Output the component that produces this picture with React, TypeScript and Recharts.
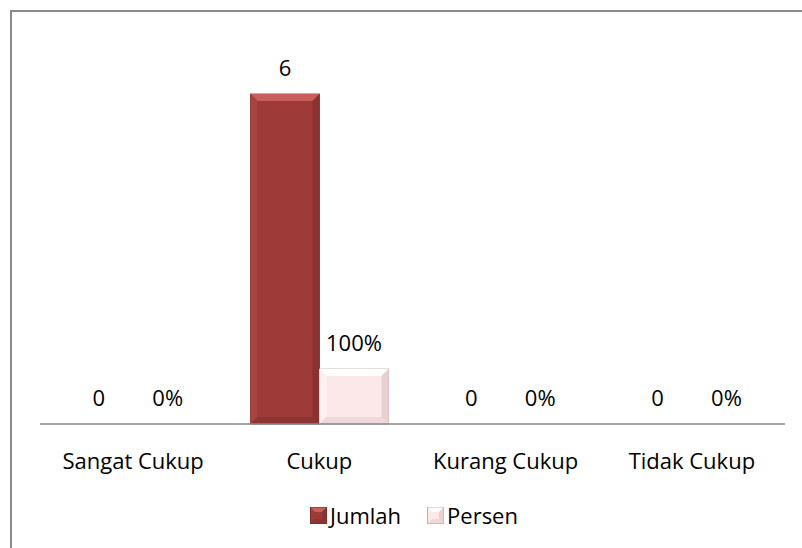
import React from "react";
import { BarChart, Bar, XAxis, YAxis, Legend, LabelList } from "recharts";

const categories = ["Sangat Cukup", "Cukup", "Kurang Cukup", "Tidak Cukup"];
const jumlah = [0, 6, 0, 0];
const persen = [0, 1, 0, 0];

const data = categories.map((name, i) => ({ name, jumlah: jumlah[i], persen: persen[i] }));

const FONT = "'Open Sans', sans-serif";
const FS = 22;

const palette: Record<string, { fill: string; top: string; side: string; dark: string; edge: string }> = {
  jumlah: { fill: "#9e3b39", top: "#c95f5c", side: "#a84340", dark: "#8a3230", edge: "#7a2c2a" },
  persen: { fill: "#fce8e8", top: "#ffffff", side: "#fdf0f0", dark: "#ead1d1", edge: "#c9a8a8" },
};

function bevelShape(key: string) {
  return (props: any) => {
    const { x, y, width, height } = props;
    if (!height || height <= 0) return <g />;
    const c = palette[key];
    const b = Math.min(7, height / 2, width / 2);
    return (
      <g>
        <rect x={x} y={y} width={width} height={height} fill={c.fill} stroke={c.edge} strokeWidth={0.8} />
        <polygon points={`${x},${y} ${x + width},${y} ${x + width - b},${y + b} ${x + b},${y + b}`} fill={c.top} />
        <polygon points={`${x},${y} ${x + b},${y + b} ${x + b},${y + height - b} ${x},${y + height}`} fill={c.side} />
        <polygon points={`${x + width},${y} ${x + width},${y + height} ${x + width - b},${y + height - b} ${x + width - b},${y + b}`} fill={c.dark} />
        <polygon points={`${x},${y + height} ${x + b},${y + height - b} ${x + width - b},${y + height - b} ${x + width},${y + height}`} fill={c.dark} opacity={0.7} />
      </g>
    );
  };
}

function Swatch({ k }: { k: string }) {
  const c = palette[k];
  return (
    <svg width={17} height={17} style={{ display: "block" }}>
      <rect x={0.5} y={0.5} width={16} height={16} fill={c.fill} stroke={c.edge} />
      <polygon points="0.5,0.5 16.5,0.5 12,5 5,5" fill={c.top} />
      <polygon points="16.5,0.5 16.5,16.5 12,12 12,5" fill={c.dark} />
      <polygon points="0.5,16.5 5,12 12,12 16.5,16.5" fill={c.dark} opacity={0.7} />
    </svg>
  );
}

function LegendContent() {
  const items = [
    { k: "jumlah", label: "Jumlah" },
    { k: "persen", label: "Persen" },
  ];
  return (
    <div style={{ display: "flex", alignItems: "center", fontFamily: FONT, fontSize: FS, color: "#000", lineHeight: "30px" }}>
      {items.map((it, i) => (
        <div key={it.k} style={{ display: "flex", alignItems: "center", marginRight: i === 0 ? 26 : 0 }}>
          <Swatch k={it.k} />
          <span style={{ marginLeft: 3 }}>{it.label}</span>
        </div>
      ))}
    </div>
  );
}

export default function App() {
  return (
    <div style={{ position: "fixed", left: 0, top: 0, width: 802, height: 548, background: "#fff", overflow: "hidden" }}>
      <div
        style={{
          position: "absolute",
          left: 10,
          top: 10,
          width: 810,
          height: 560,
          border: "2px solid #8a8a8a",
          boxSizing: "border-box",
        }}
      />
      <div style={{ position: "absolute", left: 0, top: 0 }}>
        <BarChart
          width={802}
          height={548}
          data={data}
          margin={{ top: 94, right: 17, bottom: 64, left: 40 }}
          barCategoryGap="13%"
          barGap={0}
        >
          <YAxis hide domain={[0, 6]} />
          <XAxis
            dataKey="name"
            height={60}
            tickLine={false}
            tickSize={0}
            tickMargin={29}
            axisLine={{ stroke: "#888888", strokeWidth: 1.5 }}
            tick={{ fill: "#000", fontSize: FS, fontFamily: FONT }}
            interval={0}
          />
          <Legend
            layout="horizontal"
            verticalAlign="middle"
            align="center"
            content={<LegendContent />}
            wrapperStyle={{ top: 500, left: 310, width: "auto" }}
          />
          <Bar dataKey="jumlah" name="Jumlah" fill="#9e3b39" isAnimationActive={false} shape={bevelShape("jumlah")}>
            <LabelList dataKey="jumlah" position="top" offset={18} fill="#000" fontSize={FS} fontFamily={FONT} />
          </Bar>
          <Bar dataKey="persen" name="Persen" fill="#fce8e8" isAnimationActive={false} shape={bevelShape("persen")}>
            <LabelList
              dataKey="persen"
              position="top"
              offset={18}
              fill="#000"
              fontSize={FS}
              fontFamily={FONT}
              formatter={(v: any) => `${Math.round(Number(v) * 100)}%`}
            />
          </Bar>
        </BarChart>
      </div>
    </div>
  );
}
